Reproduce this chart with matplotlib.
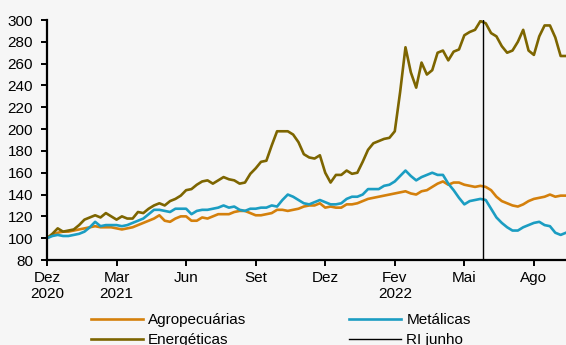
import matplotlib
matplotlib.use('Agg')
import matplotlib.pyplot as plt
import numpy as np

plt.rcParams['font.family'] = ['Liberation Sans', 'DejaVu Sans']

# ---- dados semanais (base 100 = dez/2020) ----
agro = [100, 103, 105, 106, 106, 107, 108, 109, 110, 111,
        110, 110, 110, 109, 108, 109, 110, 112, 114, 116,
        118, 121, 116, 115, 118, 120, 120, 116, 116, 119,
        118, 120, 122, 122, 122, 124, 125, 125, 123, 121,
        121, 122, 123, 126, 126, 125, 126, 127, 129, 130,
        130, 132, 128, 129, 128, 128, 131, 131, 132, 134,
        136, 137, 138, 139, 140, 141, 142, 143, 141, 140,
        143, 144, 147, 150, 152, 149, 151, 151, 149, 148,
        147, 148, 147, 144, 138, 134, 132, 130, 129, 131,
        134, 136, 137, 138, 140, 138, 139, 139]

energ = [100, 104, 109, 106, 107, 108, 112, 117, 119, 121,
         119, 123, 120, 117, 120, 118, 118, 124, 123, 127,
         130, 132, 130, 134, 136, 139, 144, 145, 149, 152,
         153, 150, 153, 156, 154, 153, 150, 151, 159, 164,
         170, 171, 185, 198, 198, 198, 195, 188, 177, 174,
         173, 176, 160, 151, 158, 158, 162, 159, 160, 170,
         181, 187, 189, 191, 192, 198, 234, 275, 252, 238,
         261, 250, 254, 270, 272, 263, 271, 273, 286, 289,
         291, 299, 297, 288, 285, 276, 270, 272, 280, 291,
         272, 268, 285, 295, 295, 284, 267, 267]

metal = [100, 102, 103, 102, 102, 103, 104, 106, 110, 115,
         111, 112, 112, 112, 111, 112, 114, 116, 118, 122,
         126, 126, 125, 124, 127, 127, 127, 122, 125, 126,
         126, 127, 128, 130, 128, 129, 126, 125, 127, 127,
         128, 128, 130, 129, 135, 140, 138, 135, 132, 131,
         133, 135, 133, 131, 131, 132, 136, 138, 138, 140,
         145, 145, 145, 148, 149, 152, 157, 162, 157, 153,
         156, 158, 160, 158, 158, 150, 144, 137, 131, 134,
         135, 136, 135, 127, 119, 114, 110, 107, 107, 110,
         112, 114, 115, 112, 111, 105, 103, 105]

tick_pos = [0, 13, 26, 39, 52, 65, 78, 91]
tick_labels = ['Dez\n2020', 'Mar\n2021', 'Jun', 'Set', 'Dez', 'Fev\n2022', 'Mai', 'Ago']
ri_junho = 81.5

semanas = np.arange(len(agro))

fig = plt.figure(figsize=(5.66, 3.45), dpi=100, facecolor='#f6f6f6')
ax = fig.add_axes([47 / 566, 1 - 260 / 345, 1 - 47 / 566, 240 / 345])
ax.set_facecolor('#f6f6f6')

ax.plot(semanas, agro, color='#D4800C', lw=1.9, label='Agropecuárias')
ax.plot(semanas, energ, color='#7D6500', lw=1.9, label='Energéticas')
ax.plot(semanas, metal, color='#1B9DC2', lw=1.9, label='Metálicas')
ax.axvline(ri_junho, color='black', lw=1.0, label='RI junho')

ax.set_xlim(0, 97)
ax.set_ylim(80, 300)
ax.set_yticks(np.arange(80, 301, 20))
ax.set_xticks(tick_pos)
ax.set_xticklabels(tick_labels, linespacing=1.15)

for s in ['top', 'right']:
    ax.spines[s].set_visible(False)
for s in ['left', 'bottom']:
    ax.spines[s].set_linewidth(1.6)
    ax.spines[s].set_color('black')
ax.tick_params(axis='both', direction='out', length=4, width=1.4,
               labelsize=11, colors='black')
ax.tick_params(axis='y', pad=6)
ax.tick_params(axis='x', pad=4)

fig.legend(loc='upper left', bbox_to_anchor=(91 / 566, 1 - 313 / 345),
           ncol=2, frameon=False, fontsize=11, handlelength=3.4,
           handletextpad=0.33, columnspacing=6.75, labelspacing=0.4,
           borderpad=0, borderaxespad=0)

fig.savefig('out.png', dpi=100, facecolor=fig.get_facecolor())
